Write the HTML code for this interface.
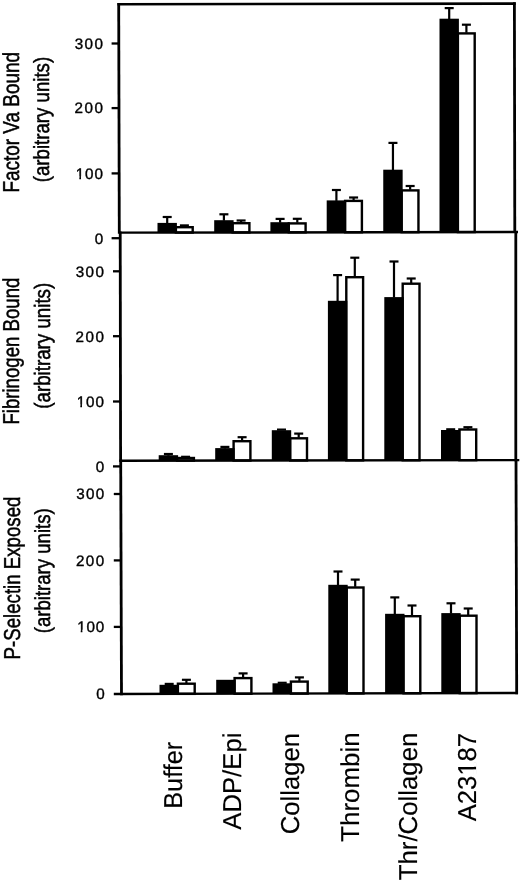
<!DOCTYPE html>
<html><head><meta charset="utf-8"><title>Figure</title>
<style>
html,body{margin:0;padding:0;background:#fff;}
body{width:520px;height:881px;overflow:hidden;}
svg{display:block;filter:grayscale(1);}
text{font-family:"Liberation Sans",sans-serif;fill:#000;text-rendering:geometricPrecision;}
</style></head><body>
<svg width="520" height="881" viewBox="0 0 520 881">
<rect x="0" y="0" width="520" height="881" fill="#fff"/>
<rect x="175.90" y="227.20" width="16.80" height="5.32" fill="#fff" stroke="#000" stroke-width="2.4"/>
<rect x="157.50" y="222.90" width="19.4" height="9.62" fill="#000"/>
<line x1="167.20" y1="223.40" x2="167.20" y2="217.00" stroke="#000" stroke-width="2.2" stroke-linecap="butt"/>
<line x1="162.70" y1="217.00" x2="171.70" y2="217.00" stroke="#000" stroke-width="2.2" stroke-linecap="butt"/>
<line x1="179.90" y1="225.40" x2="188.90" y2="225.40" stroke="#000" stroke-width="2.2" stroke-linecap="butt"/>
<rect x="232.60" y="223.20" width="16.80" height="9.23" fill="#fff" stroke="#000" stroke-width="2.4"/>
<rect x="214.20" y="220.20" width="19.4" height="12.23" fill="#000"/>
<line x1="223.90" y1="220.70" x2="223.90" y2="214.30" stroke="#000" stroke-width="2.2" stroke-linecap="butt"/>
<line x1="219.40" y1="214.30" x2="228.40" y2="214.30" stroke="#000" stroke-width="2.2" stroke-linecap="butt"/>
<line x1="241.10" y1="222.50" x2="241.10" y2="220.50" stroke="#000" stroke-width="2.2" stroke-linecap="butt"/>
<line x1="236.60" y1="220.50" x2="245.60" y2="220.50" stroke="#000" stroke-width="2.2" stroke-linecap="butt"/>
<rect x="288.80" y="223.40" width="16.80" height="8.94" fill="#fff" stroke="#000" stroke-width="2.4"/>
<rect x="270.40" y="222.20" width="19.4" height="10.14" fill="#000"/>
<line x1="280.10" y1="222.70" x2="280.10" y2="218.90" stroke="#000" stroke-width="2.2" stroke-linecap="butt"/>
<line x1="275.60" y1="218.90" x2="284.60" y2="218.90" stroke="#000" stroke-width="2.2" stroke-linecap="butt"/>
<line x1="297.30" y1="222.70" x2="297.30" y2="218.80" stroke="#000" stroke-width="2.2" stroke-linecap="butt"/>
<line x1="292.80" y1="218.80" x2="301.80" y2="218.80" stroke="#000" stroke-width="2.2" stroke-linecap="butt"/>
<rect x="345.10" y="200.90" width="16.80" height="31.36" fill="#fff" stroke="#000" stroke-width="2.4"/>
<rect x="326.70" y="200.40" width="19.4" height="31.86" fill="#000"/>
<line x1="336.40" y1="200.90" x2="336.40" y2="190.00" stroke="#000" stroke-width="2.2" stroke-linecap="butt"/>
<line x1="331.90" y1="190.00" x2="340.90" y2="190.00" stroke="#000" stroke-width="2.2" stroke-linecap="butt"/>
<line x1="353.60" y1="200.20" x2="353.60" y2="197.50" stroke="#000" stroke-width="2.2" stroke-linecap="butt"/>
<line x1="349.10" y1="197.50" x2="358.10" y2="197.50" stroke="#000" stroke-width="2.2" stroke-linecap="butt"/>
<rect x="401.65" y="190.40" width="16.80" height="41.77" fill="#fff" stroke="#000" stroke-width="2.4"/>
<rect x="383.25" y="169.70" width="19.4" height="62.47" fill="#000"/>
<line x1="392.95" y1="170.20" x2="392.95" y2="142.90" stroke="#000" stroke-width="2.2" stroke-linecap="butt"/>
<line x1="388.45" y1="142.90" x2="397.45" y2="142.90" stroke="#000" stroke-width="2.2" stroke-linecap="butt"/>
<line x1="410.15" y1="189.70" x2="410.15" y2="186.00" stroke="#000" stroke-width="2.2" stroke-linecap="butt"/>
<line x1="405.65" y1="186.00" x2="414.65" y2="186.00" stroke="#000" stroke-width="2.2" stroke-linecap="butt"/>
<rect x="457.90" y="33.40" width="16.80" height="198.69" fill="#fff" stroke="#000" stroke-width="2.4"/>
<rect x="439.50" y="18.70" width="19.4" height="213.39" fill="#000"/>
<line x1="449.20" y1="19.20" x2="449.20" y2="8.10" stroke="#000" stroke-width="2.2" stroke-linecap="butt"/>
<line x1="444.70" y1="8.10" x2="453.70" y2="8.10" stroke="#000" stroke-width="2.2" stroke-linecap="butt"/>
<line x1="466.40" y1="32.70" x2="466.40" y2="24.70" stroke="#000" stroke-width="2.2" stroke-linecap="butt"/>
<line x1="461.90" y1="24.70" x2="470.90" y2="24.70" stroke="#000" stroke-width="2.2" stroke-linecap="butt"/>
<rect x="177.10" y="458.00" width="16.80" height="2.61" fill="#fff" stroke="#000" stroke-width="2.4"/>
<rect x="158.70" y="455.20" width="19.4" height="5.41" fill="#000"/>
<line x1="168.40" y1="455.70" x2="168.40" y2="454.00" stroke="#000" stroke-width="2.2" stroke-linecap="butt"/>
<line x1="163.90" y1="454.00" x2="172.90" y2="454.00" stroke="#000" stroke-width="2.2" stroke-linecap="butt"/>
<line x1="181.10" y1="456.80" x2="190.10" y2="456.80" stroke="#000" stroke-width="2.2" stroke-linecap="butt"/>
<rect x="233.60" y="441.20" width="16.80" height="19.33" fill="#fff" stroke="#000" stroke-width="2.4"/>
<rect x="215.20" y="448.10" width="19.4" height="12.43" fill="#000"/>
<line x1="224.90" y1="448.60" x2="224.90" y2="446.90" stroke="#000" stroke-width="2.2" stroke-linecap="butt"/>
<line x1="220.40" y1="446.90" x2="229.40" y2="446.90" stroke="#000" stroke-width="2.2" stroke-linecap="butt"/>
<line x1="242.10" y1="440.50" x2="242.10" y2="437.20" stroke="#000" stroke-width="2.2" stroke-linecap="butt"/>
<line x1="237.60" y1="437.20" x2="246.60" y2="437.20" stroke="#000" stroke-width="2.2" stroke-linecap="butt"/>
<rect x="290.20" y="438.30" width="16.80" height="22.14" fill="#fff" stroke="#000" stroke-width="2.4"/>
<rect x="271.80" y="430.20" width="19.4" height="30.24" fill="#000"/>
<line x1="277.00" y1="429.60" x2="286.00" y2="429.60" stroke="#000" stroke-width="2.2" stroke-linecap="butt"/>
<line x1="298.70" y1="437.60" x2="298.70" y2="433.60" stroke="#000" stroke-width="2.2" stroke-linecap="butt"/>
<line x1="294.20" y1="433.60" x2="303.20" y2="433.60" stroke="#000" stroke-width="2.2" stroke-linecap="butt"/>
<rect x="346.30" y="277.20" width="16.80" height="183.16" fill="#fff" stroke="#000" stroke-width="2.4"/>
<rect x="327.90" y="300.80" width="19.4" height="159.56" fill="#000"/>
<line x1="337.60" y1="301.30" x2="337.60" y2="275.10" stroke="#000" stroke-width="2.2" stroke-linecap="butt"/>
<line x1="333.10" y1="275.10" x2="342.10" y2="275.10" stroke="#000" stroke-width="2.2" stroke-linecap="butt"/>
<line x1="354.80" y1="276.50" x2="354.80" y2="257.70" stroke="#000" stroke-width="2.2" stroke-linecap="butt"/>
<line x1="350.30" y1="257.70" x2="359.30" y2="257.70" stroke="#000" stroke-width="2.2" stroke-linecap="butt"/>
<rect x="402.70" y="283.70" width="16.80" height="176.57" fill="#fff" stroke="#000" stroke-width="2.4"/>
<rect x="384.30" y="297.10" width="19.4" height="163.17" fill="#000"/>
<line x1="394.00" y1="297.60" x2="394.00" y2="261.50" stroke="#000" stroke-width="2.2" stroke-linecap="butt"/>
<line x1="389.50" y1="261.50" x2="398.50" y2="261.50" stroke="#000" stroke-width="2.2" stroke-linecap="butt"/>
<line x1="411.20" y1="283.00" x2="411.20" y2="278.50" stroke="#000" stroke-width="2.2" stroke-linecap="butt"/>
<line x1="406.70" y1="278.50" x2="415.70" y2="278.50" stroke="#000" stroke-width="2.2" stroke-linecap="butt"/>
<rect x="459.40" y="429.50" width="16.80" height="30.69" fill="#fff" stroke="#000" stroke-width="2.4"/>
<rect x="441.00" y="430.00" width="19.4" height="30.19" fill="#000"/>
<line x1="446.20" y1="429.30" x2="455.20" y2="429.30" stroke="#000" stroke-width="2.2" stroke-linecap="butt"/>
<line x1="467.90" y1="428.80" x2="467.90" y2="427.20" stroke="#000" stroke-width="2.2" stroke-linecap="butt"/>
<line x1="463.40" y1="427.20" x2="472.40" y2="427.20" stroke="#000" stroke-width="2.2" stroke-linecap="butt"/>
<rect x="177.90" y="683.70" width="16.80" height="10.15" fill="#fff" stroke="#000" stroke-width="2.4"/>
<rect x="159.50" y="684.80" width="19.4" height="9.05" fill="#000"/>
<line x1="164.70" y1="683.90" x2="173.70" y2="683.90" stroke="#000" stroke-width="2.2" stroke-linecap="butt"/>
<line x1="186.40" y1="683.00" x2="186.40" y2="679.80" stroke="#000" stroke-width="2.2" stroke-linecap="butt"/>
<line x1="181.90" y1="679.80" x2="190.90" y2="679.80" stroke="#000" stroke-width="2.2" stroke-linecap="butt"/>
<rect x="234.60" y="678.10" width="16.80" height="15.61" fill="#fff" stroke="#000" stroke-width="2.4"/>
<rect x="216.20" y="679.80" width="19.4" height="13.91" fill="#000"/>
<line x1="243.10" y1="677.40" x2="243.10" y2="673.40" stroke="#000" stroke-width="2.2" stroke-linecap="butt"/>
<line x1="238.60" y1="673.40" x2="247.60" y2="673.40" stroke="#000" stroke-width="2.2" stroke-linecap="butt"/>
<rect x="290.90" y="681.60" width="16.80" height="11.97" fill="#fff" stroke="#000" stroke-width="2.4"/>
<rect x="272.50" y="683.30" width="19.4" height="10.27" fill="#000"/>
<line x1="277.70" y1="682.80" x2="286.70" y2="682.80" stroke="#000" stroke-width="2.2" stroke-linecap="butt"/>
<line x1="299.40" y1="680.90" x2="299.40" y2="677.40" stroke="#000" stroke-width="2.2" stroke-linecap="butt"/>
<line x1="294.90" y1="677.40" x2="303.90" y2="677.40" stroke="#000" stroke-width="2.2" stroke-linecap="butt"/>
<rect x="346.70" y="587.50" width="16.80" height="105.93" fill="#fff" stroke="#000" stroke-width="2.4"/>
<rect x="328.30" y="584.80" width="19.4" height="108.63" fill="#000"/>
<line x1="338.00" y1="585.30" x2="338.00" y2="571.50" stroke="#000" stroke-width="2.2" stroke-linecap="butt"/>
<line x1="333.50" y1="571.50" x2="342.50" y2="571.50" stroke="#000" stroke-width="2.2" stroke-linecap="butt"/>
<line x1="355.20" y1="586.80" x2="355.20" y2="579.60" stroke="#000" stroke-width="2.2" stroke-linecap="butt"/>
<line x1="350.70" y1="579.60" x2="359.70" y2="579.60" stroke="#000" stroke-width="2.2" stroke-linecap="butt"/>
<rect x="403.50" y="616.20" width="16.80" height="77.09" fill="#fff" stroke="#000" stroke-width="2.4"/>
<rect x="385.10" y="613.80" width="19.4" height="79.49" fill="#000"/>
<line x1="394.80" y1="614.30" x2="394.80" y2="597.40" stroke="#000" stroke-width="2.2" stroke-linecap="butt"/>
<line x1="390.30" y1="597.40" x2="399.30" y2="597.40" stroke="#000" stroke-width="2.2" stroke-linecap="butt"/>
<line x1="412.00" y1="615.50" x2="412.00" y2="605.50" stroke="#000" stroke-width="2.2" stroke-linecap="butt"/>
<line x1="407.50" y1="605.50" x2="416.50" y2="605.50" stroke="#000" stroke-width="2.2" stroke-linecap="butt"/>
<rect x="459.70" y="615.70" width="16.80" height="77.44" fill="#fff" stroke="#000" stroke-width="2.4"/>
<rect x="441.30" y="613.10" width="19.4" height="80.04" fill="#000"/>
<line x1="451.00" y1="613.60" x2="451.00" y2="603.30" stroke="#000" stroke-width="2.2" stroke-linecap="butt"/>
<line x1="446.50" y1="603.30" x2="455.50" y2="603.30" stroke="#000" stroke-width="2.2" stroke-linecap="butt"/>
<line x1="468.20" y1="615.00" x2="468.20" y2="608.50" stroke="#000" stroke-width="2.2" stroke-linecap="butt"/>
<line x1="463.70" y1="608.50" x2="472.70" y2="608.50" stroke="#000" stroke-width="2.2" stroke-linecap="butt"/>
<line x1="117.40" y1="4.30" x2="515.70" y2="3.60" stroke="#000" stroke-width="2.6" stroke-linecap="butt"/>
<line x1="118.70" y1="3.00" x2="119.30" y2="233.80" stroke="#000" stroke-width="2.8" stroke-linecap="butt"/>
<line x1="120.20" y1="231.40" x2="120.60" y2="461.90" stroke="#000" stroke-width="2.8" stroke-linecap="butt"/>
<line x1="120.70" y1="459.50" x2="121.50" y2="695.20" stroke="#000" stroke-width="2.8" stroke-linecap="butt"/>
<line x1="514.40" y1="2.30" x2="514.80" y2="233.00" stroke="#000" stroke-width="2.8" stroke-linecap="butt"/>
<line x1="515.80" y1="231.00" x2="515.80" y2="461.30" stroke="#000" stroke-width="2.8" stroke-linecap="butt"/>
<line x1="516.00" y1="459.00" x2="516.70" y2="694.20" stroke="#000" stroke-width="2.8" stroke-linecap="butt"/>
<line x1="119.00" y1="232.65" x2="518.00" y2="232.00" stroke="#000" stroke-width="2.4" stroke-linecap="butt"/>
<line x1="120.00" y1="460.75" x2="519.30" y2="460.10" stroke="#000" stroke-width="2.4" stroke-linecap="butt"/>
<line x1="113.80" y1="694.00" x2="518.00" y2="693.00" stroke="#000" stroke-width="2.4" stroke-linecap="butt"/>
<line x1="111.60" y1="43.50" x2="119.00" y2="43.50" stroke="#000" stroke-width="2.3" stroke-linecap="butt"/>
<text transform="translate(74.84,48.80) scale(1.0000,1)" font-size="15.2" letter-spacing="1.322" stroke="#000" stroke-width="0.4">300</text>
<line x1="111.60" y1="108.10" x2="119.00" y2="108.10" stroke="#000" stroke-width="2.3" stroke-linecap="butt"/>
<text transform="translate(74.54,113.40) scale(1.0000,1)" font-size="15.2" letter-spacing="1.474" stroke="#000" stroke-width="0.4">200</text>
<line x1="111.60" y1="173.40" x2="119.00" y2="173.40" stroke="#000" stroke-width="2.3" stroke-linecap="butt"/>
<text transform="translate(75.74,178.70) scale(1.0000,1)" font-size="15.2" letter-spacing="0.876" stroke="#000" stroke-width="0.4">100</text>
<rect x="75.79" y="176.25" width="3.51" height="4.0" fill="#fff"/>
<rect x="81.00" y="176.25" width="3.65" height="4.0" fill="#fff"/>
<line x1="111.60" y1="238.20" x2="119.00" y2="238.20" stroke="#000" stroke-width="2.3" stroke-linecap="butt"/>
<text transform="translate(94.74,243.50) scale(1.0000,1)" font-size="15.2" letter-spacing="0.000" stroke="#000" stroke-width="0.4">0</text>
<line x1="113.00" y1="271.30" x2="120.40" y2="271.30" stroke="#000" stroke-width="2.3" stroke-linecap="butt"/>
<text transform="translate(75.84,276.60) scale(1.0000,1)" font-size="15.2" letter-spacing="1.322" stroke="#000" stroke-width="0.4">300</text>
<line x1="113.00" y1="336.20" x2="120.40" y2="336.20" stroke="#000" stroke-width="2.3" stroke-linecap="butt"/>
<text transform="translate(75.54,341.50) scale(1.0000,1)" font-size="15.2" letter-spacing="1.474" stroke="#000" stroke-width="0.4">200</text>
<line x1="113.00" y1="401.50" x2="120.40" y2="401.50" stroke="#000" stroke-width="2.3" stroke-linecap="butt"/>
<text transform="translate(76.74,406.80) scale(1.0000,1)" font-size="15.2" letter-spacing="0.876" stroke="#000" stroke-width="0.4">100</text>
<rect x="76.79" y="404.35" width="3.51" height="4.0" fill="#fff"/>
<rect x="82.00" y="404.35" width="3.65" height="4.0" fill="#fff"/>
<line x1="113.00" y1="466.40" x2="120.40" y2="466.40" stroke="#000" stroke-width="2.3" stroke-linecap="butt"/>
<text transform="translate(95.74,471.70) scale(1.0000,1)" font-size="15.2" letter-spacing="0.000" stroke="#000" stroke-width="0.4">0</text>
<line x1="113.80" y1="494.00" x2="121.20" y2="494.00" stroke="#000" stroke-width="2.3" stroke-linecap="butt"/>
<text transform="translate(76.24,499.30) scale(1.0000,1)" font-size="15.2" letter-spacing="1.322" stroke="#000" stroke-width="0.4">300</text>
<line x1="113.80" y1="560.40" x2="121.20" y2="560.40" stroke="#000" stroke-width="2.3" stroke-linecap="butt"/>
<text transform="translate(75.94,565.70) scale(1.0000,1)" font-size="15.2" letter-spacing="1.474" stroke="#000" stroke-width="0.4">200</text>
<line x1="113.80" y1="626.90" x2="121.20" y2="626.90" stroke="#000" stroke-width="2.3" stroke-linecap="butt"/>
<text transform="translate(77.14,632.20) scale(1.0000,1)" font-size="15.2" letter-spacing="0.876" stroke="#000" stroke-width="0.4">100</text>
<rect x="77.19" y="629.75" width="3.51" height="4.0" fill="#fff"/>
<rect x="82.40" y="629.75" width="3.65" height="4.0" fill="#fff"/>
<text transform="translate(96.14,699.00) scale(1.0000,1)" font-size="15.2" letter-spacing="0.000" stroke="#000" stroke-width="0.4">0</text>
<text transform="translate(18.50,192.61) rotate(-90) scale(0.8232,1)" font-size="23.0" stroke="#000" stroke-width="0.5">Factor Va Bound</text>
<text transform="translate(48.70,182.22) rotate(-90) scale(0.8517,1)" font-size="21.9" stroke="#000" stroke-width="0.5">(arbitrary units)</text>
<text transform="translate(19.00,424.59) rotate(-90) scale(0.8098,1)" font-size="23.0" stroke="#000" stroke-width="0.5">Fibrinogen Bound</text>
<text transform="translate(50.20,408.72) rotate(-90) scale(0.8398,1)" font-size="22.3" stroke="#000" stroke-width="0.5">(arbitrary units)</text>
<text transform="translate(19.95,659.49) rotate(-90) scale(0.8118,1)" font-size="23.0" stroke="#000" stroke-width="0.5">P-Selectin Exposed</text>
<text transform="translate(50.40,633.32) rotate(-90) scale(0.8535,1)" font-size="21.8" stroke="#000" stroke-width="0.5">(arbitrary units)</text>
<text transform="translate(181.60,808.83) rotate(-90) scale(0.9785,1)" font-size="25.9" stroke="#000" stroke-width="0.15">Buffer</text>
<text transform="translate(241.00,829.70) rotate(-90) scale(0.9920,1)" font-size="25.9" stroke="#000" stroke-width="0.15">ADP/Epi</text>
<text transform="translate(299.30,834.28) rotate(-90) scale(0.9921,1)" font-size="25.9" stroke="#000" stroke-width="0.15">Collagen</text>
<text transform="translate(359.10,841.72) rotate(-90) scale(0.9998,1)" font-size="25.9" stroke="#000" stroke-width="0.15">Thrombin</text>
<text transform="translate(417.40,880.32) rotate(-90) scale(0.9965,1)" font-size="25.9" stroke="#000" stroke-width="0.15">Thr/Collagen</text>
<text transform="translate(476.10,821.20) rotate(-90) scale(0.9886,1)" font-size="25.9" stroke="#000" stroke-width="0.15">A23187</text>
<rect x="473.72" y="769.35" width="2.93" height="5.09" fill="#fff"/>
<rect x="473.72" y="762.15" width="2.93" height="4.64" fill="#fff"/>
</svg>
</body></html>
